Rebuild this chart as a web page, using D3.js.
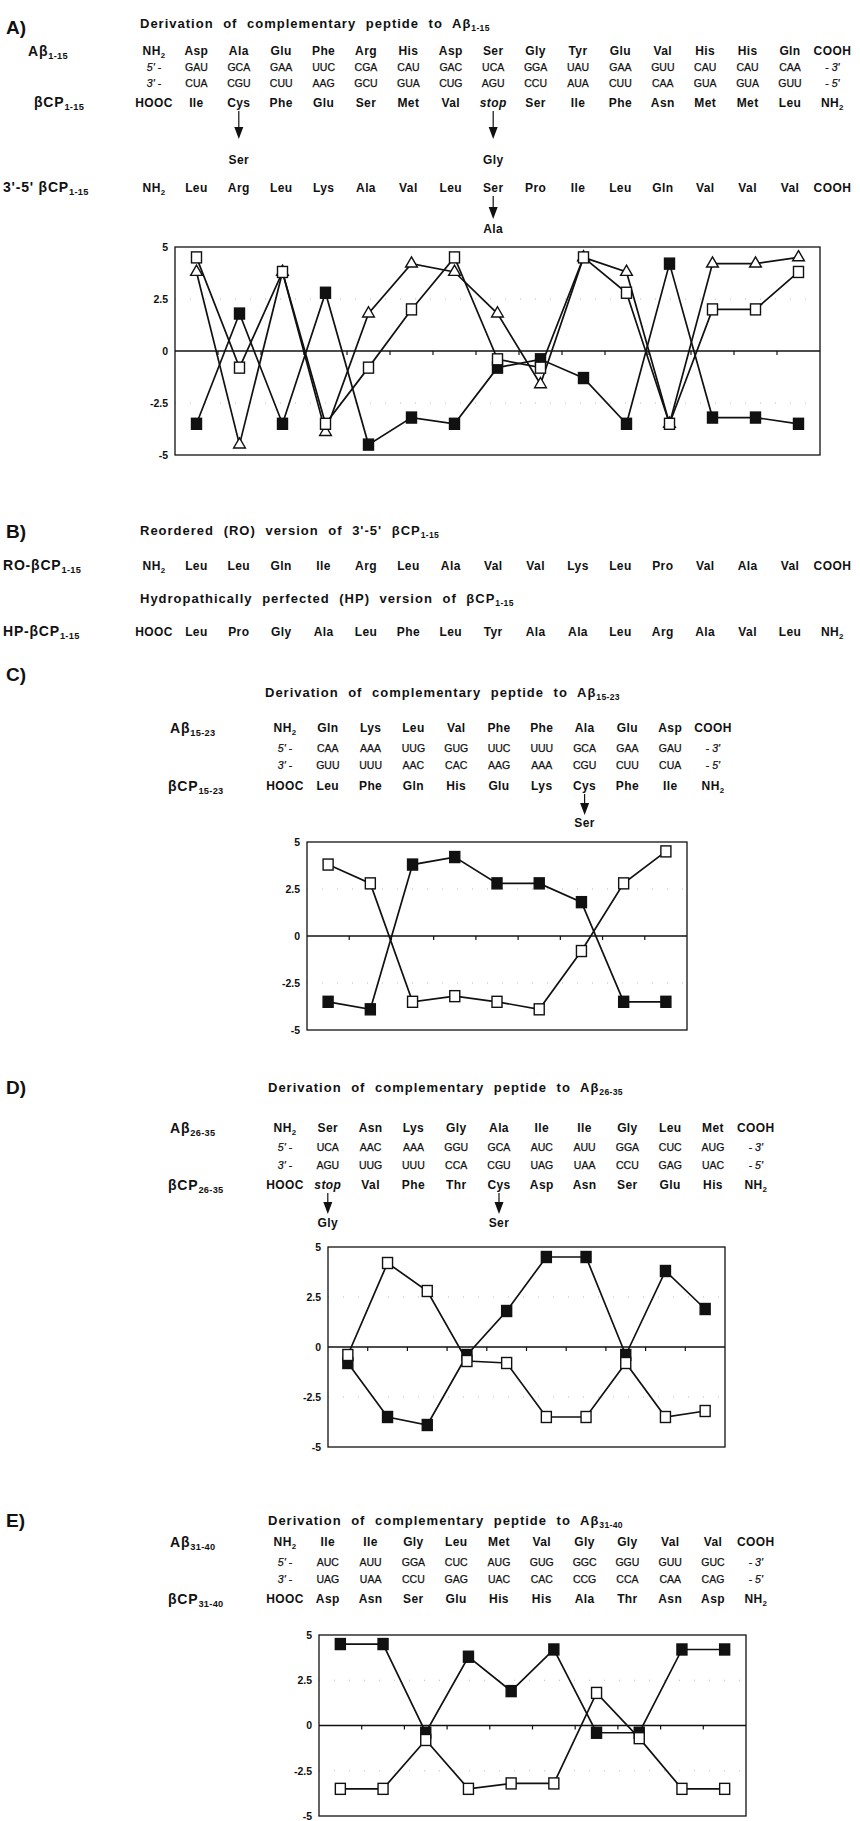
<!DOCTYPE html>
<html lang="en">
<head>
<meta charset="UTF-8"/>
<title>Complementary peptides to A-beta</title>
<script src="https://d3js.org/d3.v7.min.js"></script>
<style>
    body { margin: 0; background: #fff; }
    svg text { font-family: "Liberation Sans", Arial, Helvetica, sans-serif; fill: #111; }
    .aa { font-weight: bold; font-size: 12px; letter-spacing: 0.4px; }
    .codon { font-size: 10.5px; stroke: #111; stroke-width: 0.25px; }
    .title { font-weight: bold; font-size: 13px; word-spacing: 5px; letter-spacing: 1px; }
    .panel { font-weight: bold; font-size: 19px; }
    .rowlab { font-weight: bold; font-size: 14px; letter-spacing: 0.8px; }
    .ytick { font-weight: bold; font-size: 10.5px; }
</style>
</head>
<body>
<script>
    // ---- sequences (panel A / B) ----
    var abeta1_15 = ["NH_2", "Asp", "Ala", "Glu", "Phe", "Arg", "His", "Asp", "Ser", "Gly", "Tyr", "Glu", "Val", "His", "His", "Gln", "COOH"];
    var mrna5_1_15 = ["5' -", "GAU", "GCA", "GAA", "UUC", "CGA", "CAU", "GAC", "UCA", "GGA", "UAU", "GAA", "GUU", "CAU", "CAU", "CAA", "- 3'"];
    var mrna3_1_15 = ["3' -", "CUA", "CGU", "CUU", "AAG", "GCU", "GUA", "CUG", "AGU", "CCU", "AUA", "CUU", "CAA", "GUA", "GUA", "GUU", "- 5'"];
    var bcp1_15 = ["HOOC", "Ile", "Cys", "Phe", "Glu", "Ser", "Met", "Val", "stop", "Ser", "Ile", "Phe", "Asn", "Met", "Met", "Leu", "NH_2"];
    var bcp35_1_15 = ["NH_2", "Leu", "Arg", "Leu", "Lys", "Ala", "Val", "Leu", "Ser", "Pro", "Ile", "Leu", "Gln", "Val", "Val", "Val", "COOH"];
    var ro1_15 = ["NH_2", "Leu", "Leu", "Gln", "Ile", "Arg", "Leu", "Ala", "Val", "Val", "Lys", "Leu", "Pro", "Val", "Ala", "Val", "COOH"];
    var hp1_15 = ["HOOC", "Leu", "Pro", "Gly", "Ala", "Leu", "Phe", "Leu", "Tyr", "Ala", "Ala", "Leu", "Arg", "Ala", "Val", "Leu", "NH_2"];

    // ---- sequences (panel C) ----
    var abeta15_23 = ["NH_2", "Gln", "Lys", "Leu", "Val", "Phe", "Phe", "Ala", "Glu", "Asp", "COOH"];
    var mrna5_15_23 = ["5' -", "CAA", "AAA", "UUG", "GUG", "UUC", "UUU", "GCA", "GAA", "GAU", "- 3'"];
    var mrna3_15_23 = ["3' -", "GUU", "UUU", "AAC", "CAC", "AAG", "AAA", "CGU", "CUU", "CUA", "- 5'"];
    var bcp15_23 = ["HOOC", "Leu", "Phe", "Gln", "His", "Glu", "Lys", "Cys", "Phe", "Ile", "NH_2"];

    // ---- sequences (panel D) ----
    var abeta26_35 = ["NH_2", "Ser", "Asn", "Lys", "Gly", "Ala", "Ile", "Ile", "Gly", "Leu", "Met", "COOH"];
    var mrna5_26_35 = ["5' -", "UCA", "AAC", "AAA", "GGU", "GCA", "AUC", "AUU", "GGA", "CUC", "AUG", "- 3'"];
    var mrna3_26_35 = ["3' -", "AGU", "UUG", "UUU", "CCA", "CGU", "UAG", "UAA", "CCU", "GAG", "UAC", "- 5'"];
    var bcp26_35 = ["HOOC", "stop", "Val", "Phe", "Thr", "Cys", "Asp", "Asn", "Ser", "Glu", "His", "NH_2"];

    // ---- sequences (panel E) ----
    var abeta31_40 = ["NH_2", "Ile", "Ile", "Gly", "Leu", "Met", "Val", "Gly", "Gly", "Val", "Val", "COOH"];
    var mrna5_31_40 = ["5' -", "AUC", "AUU", "GGA", "CUC", "AUG", "GUG", "GGC", "GGU", "GUU", "GUC", "- 3'"];
    var mrna3_31_40 = ["3' -", "UAG", "UAA", "CCU", "GAG", "UAC", "CAC", "CCG", "CCA", "CAA", "CAG", "- 5'"];
    var bcp31_40 = ["HOOC", "Asp", "Asn", "Ser", "Glu", "His", "His", "Ala", "Thr", "Asn", "Asp", "NH_2"];

    // ---- hydropathy values ----
    var hydA_abeta = [-3.5, 1.8, -3.5, 2.8, -4.5, -3.2, -3.5, -0.8, -0.4, -1.3, -3.5, 4.2, -3.2, -3.2, -3.5];
    var hydA_bcp = [4.5, -0.8, 3.8, -3.5, -0.8, 2.0, 4.5, -0.4, -0.8, 4.5, 2.8, -3.5, 2.0, 2.0, 3.8];
    var hydA_bcp35 = [3.8, -4.5, 3.8, -3.9, 1.8, 4.2, 3.8, 1.8, -1.6, 4.5, 3.8, -3.5, 4.2, 4.2, 4.5];

    var hydC_abeta = [-3.5, -3.9, 3.8, 4.2, 2.8, 2.8, 1.8, -3.5, -3.5];
    var hydC_bcp = [3.8, 2.8, -3.5, -3.2, -3.5, -3.9, -0.8, 2.8, 4.5];

    var hydD_abeta = [-0.8, -3.5, -3.9, -0.4, 1.8, 4.5, 4.5, -0.4, 3.8, 1.9];
    var hydD_bcp = [-0.4, 4.2, 2.8, -0.7, -0.8, -3.5, -3.5, -0.8, -3.5, -3.2];

    var hydE_abeta = [4.5, 4.5, -0.4, 3.8, 1.9, 4.2, -0.4, -0.4, 4.2, 4.2];
    var hydE_bcp = [-3.5, -3.5, -0.8, -3.5, -3.2, -3.2, 1.8, -0.7, -3.5, -3.5];

    var yTicks = [5, 2.5, 0, -2.5, -5];

    var W = 860, H = 1821;
    var svg = d3.select("body").append("svg")
        .attr("width", W)
        .attr("height", H);
    svg.append("rect").attr("width", W).attr("height", H).attr("fill", "#fff");

    // text with optional subscript part after "_"
    function richText(x, y, str, cls, anchor) {
        var t = svg.append("text")
            .attr("class", cls)
            .attr("x", x)
            .attr("y", y)
            .attr("text-anchor", anchor || "start");
        var parts = str.split("_");
        t.append("tspan").text(parts[0]);
        if (parts.length > 1) {
            t.append("tspan")
                .attr("font-size", "0.66em")
                .attr("letter-spacing", "0.3px")
                .attr("dy", 3)
                .text(parts[1]);
        }
        return t;
    }

    function seqRow(items, x0, step, y, cls) {
        items.forEach(function(s, i) {
            var cx = x0 + i * step;
            if (s === "stop") {
                svg.append("text").attr("class", cls).attr("x", cx).attr("y", y)
                    .attr("text-anchor", "middle").attr("font-style", "italic").text("stop");
            } else if (/^[35]' -$/.test(s)) {
                var t = svg.append("text").attr("class", "codon").attr("x", cx).attr("y", y)
                    .attr("text-anchor", "middle");
                t.append("tspan").attr("font-style", "italic").text(s.slice(0, 2));
                t.append("tspan").text("  -");
            } else if (/^- [35]'$/.test(s)) {
                var t2 = svg.append("text").attr("class", "codon").attr("x", cx).attr("y", y)
                    .attr("text-anchor", "middle");
                t2.append("tspan").text("- ");
                t2.append("tspan").attr("font-style", "italic").text(s.slice(2));
            } else {
                richText(cx, y, s, cls, "middle");
            }
        });
    }

    function arrow(cx, y0, y1, label, labelY) {
        svg.append("line")
            .attr("x1", cx).attr("x2", cx)
            .attr("y1", y0).attr("y2", y1 - 10)
            .attr("stroke", "#111").attr("stroke-width", 1.2);
        svg.append("path")
            .attr("d", "M" + (cx - 4.5) + "," + (y1 - 12) + "L" + (cx + 4.5) + "," + (y1 - 12) + "L" + cx + "," + y1 + "Z")
            .attr("fill", "#111");
        svg.append("text").attr("class", "aa").attr("x", cx).attr("y", labelY)
            .attr("text-anchor", "middle").text(label);
    }

    function hydroChart(box, seriesList) {
        var n = seriesList[0].values.length;
        var x = d3.scalePoint()
            .domain(d3.range(n))
            .range([box.left, box.right])
            .padding(0.5);
        var y = d3.scaleLinear()
            .domain([-5, 5])
            .range([box.bottom, box.top]);

        var g = svg.append("g");

        // faint dotted gridlines
        g.selectAll(".grid").data([2.5, -2.5]).enter().append("line")
            .attr("x1", box.left).attr("x2", box.right)
            .attr("y1", function(d) { return y(d); }).attr("y2", function(d) { return y(d); })
            .attr("stroke", "#bbb").attr("stroke-width", 1)
            .attr("stroke-dasharray", "1,14");

        // frame
        g.append("rect")
            .attr("x", box.left).attr("y", box.top)
            .attr("width", box.right - box.left)
            .attr("height", box.bottom - box.top)
            .attr("fill", "none")
            .attr("stroke", "#111")
            .attr("stroke-width", 1.3);

        // y axis labels
        var yAxis = g.append("g")
            .attr("transform", "translate(" + box.left + ",0)")
            .call(d3.axisLeft(y).tickValues(yTicks).tickSize(0).tickPadding(7)
                .tickFormat(function(d) { return String(d); }));
        yAxis.select(".domain").remove();
        yAxis.selectAll("text").attr("class", "ytick").attr("fill", "#111");

        // zero line + category ticks
        g.append("line")
            .attr("x1", box.left).attr("x2", box.right)
            .attr("y1", y(0)).attr("y2", y(0))
            .attr("stroke", "#111").attr("stroke-width", 1.5);
        var bounds = d3.range(1, n).map(function(i) { return (x(i - 1) + x(i)) / 2; });
        g.selectAll(".ctick").data(bounds).enter().append("line")
            .attr("x1", function(d) { return d; }).attr("x2", function(d) { return d; })
            .attr("y1", y(0)).attr("y2", y(0) + 4)
            .attr("stroke", "#111").attr("stroke-width", 1.2);

        var line = d3.line()
            .x(function(d, i) { return x(i); })
            .y(function(d) { return y(d); });

        seriesList.forEach(function(s) {
            g.append("path")
                .datum(s.values)
                .attr("d", line)
                .attr("fill", "none")
                .attr("stroke", "#111")
                .attr("stroke-width", 1.7);
        });

        seriesList.forEach(function(s) {
            var pts = g.selectAll(null).data(s.values).enter();
            if (s.shape === "triangle") {
                pts.append("path")
                    .attr("d", d3.symbol(d3.symbolTriangle, 60))
                    .attr("transform", function(d, i) { return "translate(" + x(i) + "," + y(d) + ")"; })
                    .attr("fill", "#fff")
                    .attr("stroke", "#111")
                    .attr("stroke-width", 1.4);
            } else {
                pts.append("rect")
                    .attr("x", function(d, i) { return x(i) - 5; })
                    .attr("y", function(d) { return y(d) - 5.5; })
                    .attr("width", 10)
                    .attr("height", 11)
                    .attr("fill", s.shape === "filled" ? "#111" : "#fff")
                    .attr("stroke", "#111")
                    .attr("stroke-width", 1.4);
            }
        });
    }

    // ================= Panel A =================
    richText(6, 34, "A)", "panel");
    richText(140, 28, "Derivation of complementary peptide to Aβ_1-15", "title");
    richText(28, 56, "Aβ_1-15", "rowlab");
    richText(34, 107, "βCP_1-15", "rowlab");
    richText(3, 192, "3'-5' βCP_1-15", "rowlab");

    var colA0 = 154, stepA = 42.4;
    seqRow(abeta1_15, colA0, stepA, 55, "aa");
    seqRow(mrna5_1_15, colA0, stepA, 71, "codon");
    seqRow(mrna3_1_15, colA0, stepA, 87, "codon");
    seqRow(bcp1_15, colA0, stepA, 107, "aa");
    arrow(colA0 + 2 * stepA, 111, 139, "Ser", 164);
    arrow(colA0 + 8 * stepA, 111, 139, "Gly", 164);
    seqRow(bcp35_1_15, colA0, stepA, 192, "aa");
    arrow(colA0 + 8 * stepA, 196, 219, "Ala", 233);

    hydroChart({ left: 175, right: 820, top: 247, bottom: 455 }, [
        { values: hydA_abeta, shape: "filled" },
        { values: hydA_bcp35, shape: "triangle" },
        { values: hydA_bcp, shape: "open" }
    ]);

    // ================= Panel B =================
    richText(6, 538, "B)", "panel");
    richText(140, 535, "Reordered (RO) version of 3'-5' βCP_1-15", "title");
    richText(3, 570, "RO-βCP_1-15", "rowlab");
    seqRow(ro1_15, colA0, stepA, 570, "aa");
    richText(140, 603, "Hydropathically perfected (HP) version of βCP_1-15", "title");
    richText(3, 636, "HP-βCP_1-15", "rowlab");
    seqRow(hp1_15, colA0, stepA, 636, "aa");

    // ================= Panel C =================
    var colS0 = 285, stepS = 42.8;
    richText(6, 681, "C)", "panel");
    richText(265, 697, "Derivation of complementary peptide to Aβ_15-23", "title");
    richText(170, 733, "Aβ_15-23", "rowlab");
    richText(168, 791, "βCP_15-23", "rowlab");
    seqRow(abeta15_23, colS0, stepS, 732, "aa");
    seqRow(mrna5_15_23, colS0, stepS, 752, "codon");
    seqRow(mrna3_15_23, colS0, stepS, 769, "codon");
    seqRow(bcp15_23, colS0, stepS, 790, "aa");
    arrow(colS0 + 7 * stepS, 794, 815, "Ser", 827);

    hydroChart({ left: 307, right: 687, top: 842, bottom: 1030 }, [
        { values: hydC_abeta, shape: "filled" },
        { values: hydC_bcp, shape: "open" }
    ]);

    // ================= Panel D =================
    richText(6, 1094, "D)", "panel");
    richText(268, 1092, "Derivation of complementary peptide to Aβ_26-35", "title");
    richText(170, 1133, "Aβ_26-35", "rowlab");
    richText(168, 1190, "βCP_26-35", "rowlab");
    seqRow(abeta26_35, colS0, stepS, 1132, "aa");
    seqRow(mrna5_26_35, colS0, stepS, 1151, "codon");
    seqRow(mrna3_26_35, colS0, stepS, 1169, "codon");
    seqRow(bcp26_35, colS0, stepS, 1189, "aa");
    arrow(colS0 + 1 * stepS, 1193, 1214, "Gly", 1227);
    arrow(colS0 + 5 * stepS, 1193, 1214, "Ser", 1227);

    hydroChart({ left: 328, right: 725, top: 1247, bottom: 1447 }, [
        { values: hydD_abeta, shape: "filled" },
        { values: hydD_bcp, shape: "open" }
    ]);

    // ================= Panel E =================
    richText(6, 1527, "E)", "panel");
    richText(268, 1525, "Derivation of complementary peptide to Aβ_31-40", "title");
    richText(170, 1547, "Aβ_31-40", "rowlab");
    richText(168, 1604, "βCP_31-40", "rowlab");
    seqRow(abeta31_40, colS0, stepS, 1546, "aa");
    seqRow(mrna5_31_40, colS0, stepS, 1566, "codon");
    seqRow(mrna3_31_40, colS0, stepS, 1583, "codon");
    seqRow(bcp31_40, colS0, stepS, 1603, "aa");

    hydroChart({ left: 319, right: 746, top: 1635, bottom: 1816 }, [
        { values: hydE_abeta, shape: "filled" },
        { values: hydE_bcp, shape: "open" }
    ]);
</script>
</body>
</html>
